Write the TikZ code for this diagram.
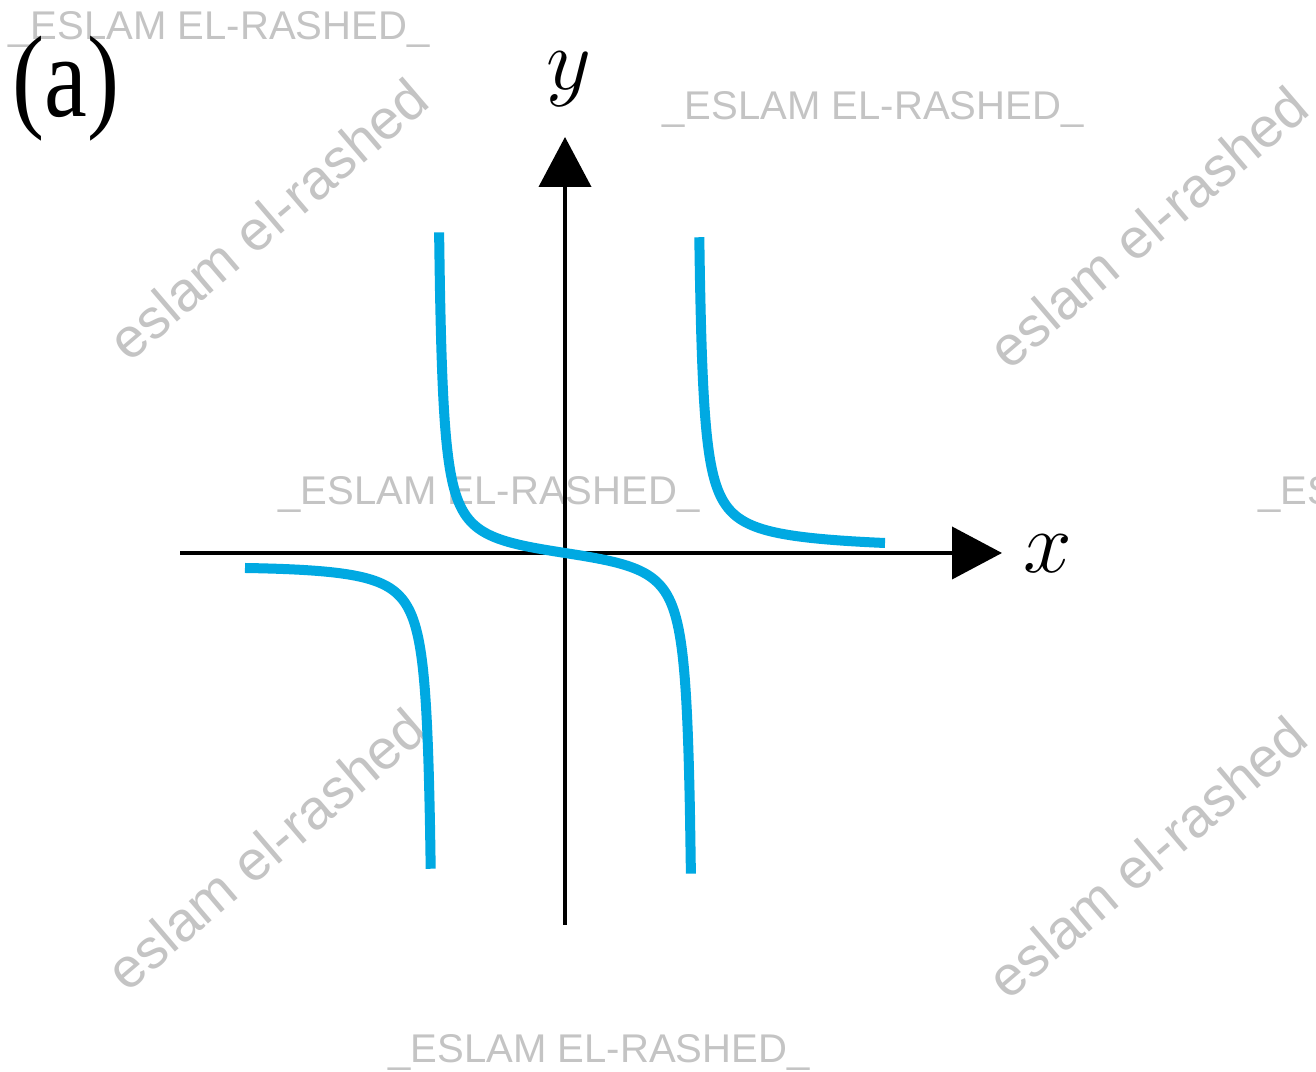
\documentclass[tikz,border=0pt]{standalone}
\usepackage{fontspec}
\usetikzlibrary{arrows.meta}
\newfontfamily\wmfont{Liberation Sans}
\newfontfamily\lblfont{Liberation Serif}
\definecolor{curveblue}{RGB}{0,169,226}
\definecolor{wmgray}{RGB}{196,196,196}
\tikzset{
  axisline/.style={line width=0.04cm, black, -{Triangle[length=0.50cm,width=0.52cm]}},
  curveline/.style={line width=0.10cm, curveblue},
  wmh/.style={font=\fontsize{11.4pt}{13pt}\selectfont\wmfont, text=wmgray, inner sep=0pt, anchor=base west},
  wmd/.style={font=\fontsize{15.9pt}{18pt}\selectfont\wmfont, text=wmgray, inner sep=0pt, rotate=40.5},
  axlabel/.style={font=\fontsize{34pt}{36pt}\selectfont, inner sep=0pt}
}
\begin{document}
\begin{tikzpicture}
\clip (0,0) rectangle (13.16,-10.72);
\fill[white] (0,0) rectangle (13.16,-10.72);
% watermarks
\node[wmh] (wm1) at (0.08,-0.40) {\_ESLAM EL-RASHED\_};
\node[wmh] (wm2) at (6.62,-1.20) {\_ESLAM EL-RASHED\_};
\node[wmh] (wm3) at (2.78,-5.05) {\_ESLAM EL-RASHED\_};
\node[wmh] (wm4) at (12.58,-5.05) {\_ESLAM EL-RASHED\_};
\node[wmh] (wm5) at (3.88,-10.63) {\_ESLAM EL-RASHED\_};
\node[wmd] (wd1) at (2.68,-2.19) {eslam el-rashed};
\node[wmd] (wd2) at (11.48,-2.27) {eslam el-rashed};
\node[wmd] (wd3) at (2.66,-8.49) {eslam el-rashed};
\node[wmd] (wd4) at (11.47,-8.57) {eslam el-rashed};
% axes
\coordinate (xstart) at (1.80,-5.53);
\coordinate (xend) at (10.02,-5.53);
\coordinate (ystart) at (5.65,-9.25);
\coordinate (yend) at (5.65,-1.37);
\draw[axisline] (xstart) -- (xend);
\draw[axisline] (ystart) -- (yend);
\node[axlabel] (xlab) at (10.48,-5.54) {$x$};
\node[axlabel] (ylab) at (5.69,-0.79) {$y$};
\node[font=\fontsize{33pt}{35pt}\selectfont\lblfont, inner sep=0pt, anchor=base west] (panel) at (0.12,-1.17) {\scalebox{0.83}[1]{(a)}};
% curves
\draw[curveline] plot[samples at={1.343,1.35,1.36,...,3.19,3.2}, smooth, variable=\t] ({5.65+\t},{-5.53+0.2672*\t/(\t*\t-1.69)});
\draw[curveline] plot[samples at={-1.259,-1.25,-1.24,...,1.25,1.259}, smooth, variable=\t] ({5.65+\t},{-5.53+0.2672*\t/(\t*\t-1.69)});
\draw[curveline] plot[samples at={-3.2,-3.19,...,-1.35,-1.343}, smooth, variable=\t] ({5.65+\t},{-5.53+0.2672*\t/(\t*\t-1.69)-0.05*(-1.343-\t)/1.857});
\end{tikzpicture}
\end{document}
